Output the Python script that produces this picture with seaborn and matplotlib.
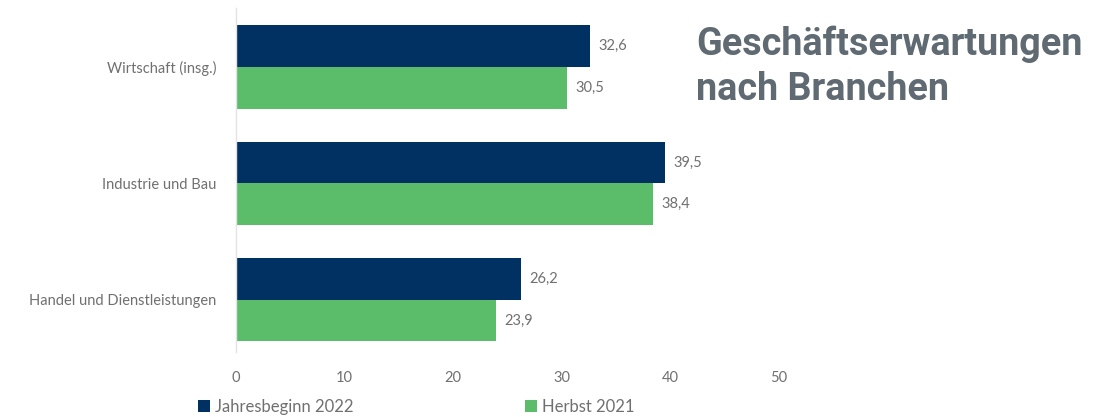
import pandas as pd
import matplotlib.pyplot as plt
import seaborn as sns

branchen = ["Wirtschaft (insg.)", "Industrie und Bau", "Handel und Dienstleistungen"]
jahresbeginn_2022 = [32.6, 39.5, 26.2]
herbst_2021 = [30.5, 38.4, 23.9]
serien = ["Jahresbeginn 2022", "Herbst 2021"]
farben = ["#003163", "#5bbd69"]

df = pd.DataFrame({
    "Branche": branchen * 2,
    "Wert": jahresbeginn_2022 + herbst_2021,
    "Serie": [serien[0]] * 3 + [serien[1]] * 3,
})

sns.set_theme(style="white")
plt.rcParams["font.family"] = ["Lato", "DejaVu Sans"]

grau = "#707070"
fig = plt.figure(figsize=(11.15, 4.17), dpi=100)
ax = fig.add_axes([0.2117, 0.156, 0.487, 0.825])

sns.barplot(data=df, y="Branche", x="Wert", hue="Serie", orient="h",
            palette=farben, saturation=1, width=0.72, gap=0, ax=ax,
            legend=True, edgecolor="none", linewidth=0)

ax.set_xlim(0, 50)
ax.set_ylim(2.45, -0.51)
ax.set_xticks([0, 10, 20, 30, 40, 50])
ax.set_xlabel("")
ax.set_ylabel("")
ax.tick_params(axis="both", length=0, labelsize=10.5, colors=grau)
ax.tick_params(axis="x", pad=14)
ax.tick_params(axis="y", pad=14)
for s in ["top", "right", "bottom"]:
    ax.spines[s].set_visible(False)
ax.spines["left"].set_color("#e3e3e3")
ax.spines["left"].set_linewidth(1)

for container in ax.containers:
    labels = [f"{v:.1f}".replace(".", ",") for v in container.datavalues]
    ax.bar_label(container, labels=labels, padding=6, fontsize=10.5, color=grau)

handles, labs = ax.get_legend_handles_labels()
ax.get_legend().remove()
fig.legend(handles, labs, loc="center left", bbox_to_anchor=(0.172, 0.025),
           ncol=2, frameon=False, fontsize=12, labelcolor=grau,
           handlelength=0.7, handleheight=0.7, handletextpad=0.3,
           columnspacing=10.3, borderaxespad=0)

fig.text(0.624, 0.84, "Geschäftserwartungen\nnach Branchen", fontsize=27.2,
         fontweight="bold", color="#5f6a72", family=["Roboto", "DejaVu Sans"],
         va="center", ha="left", linespacing=1.27)

fig.savefig("out.png", dpi=100)
